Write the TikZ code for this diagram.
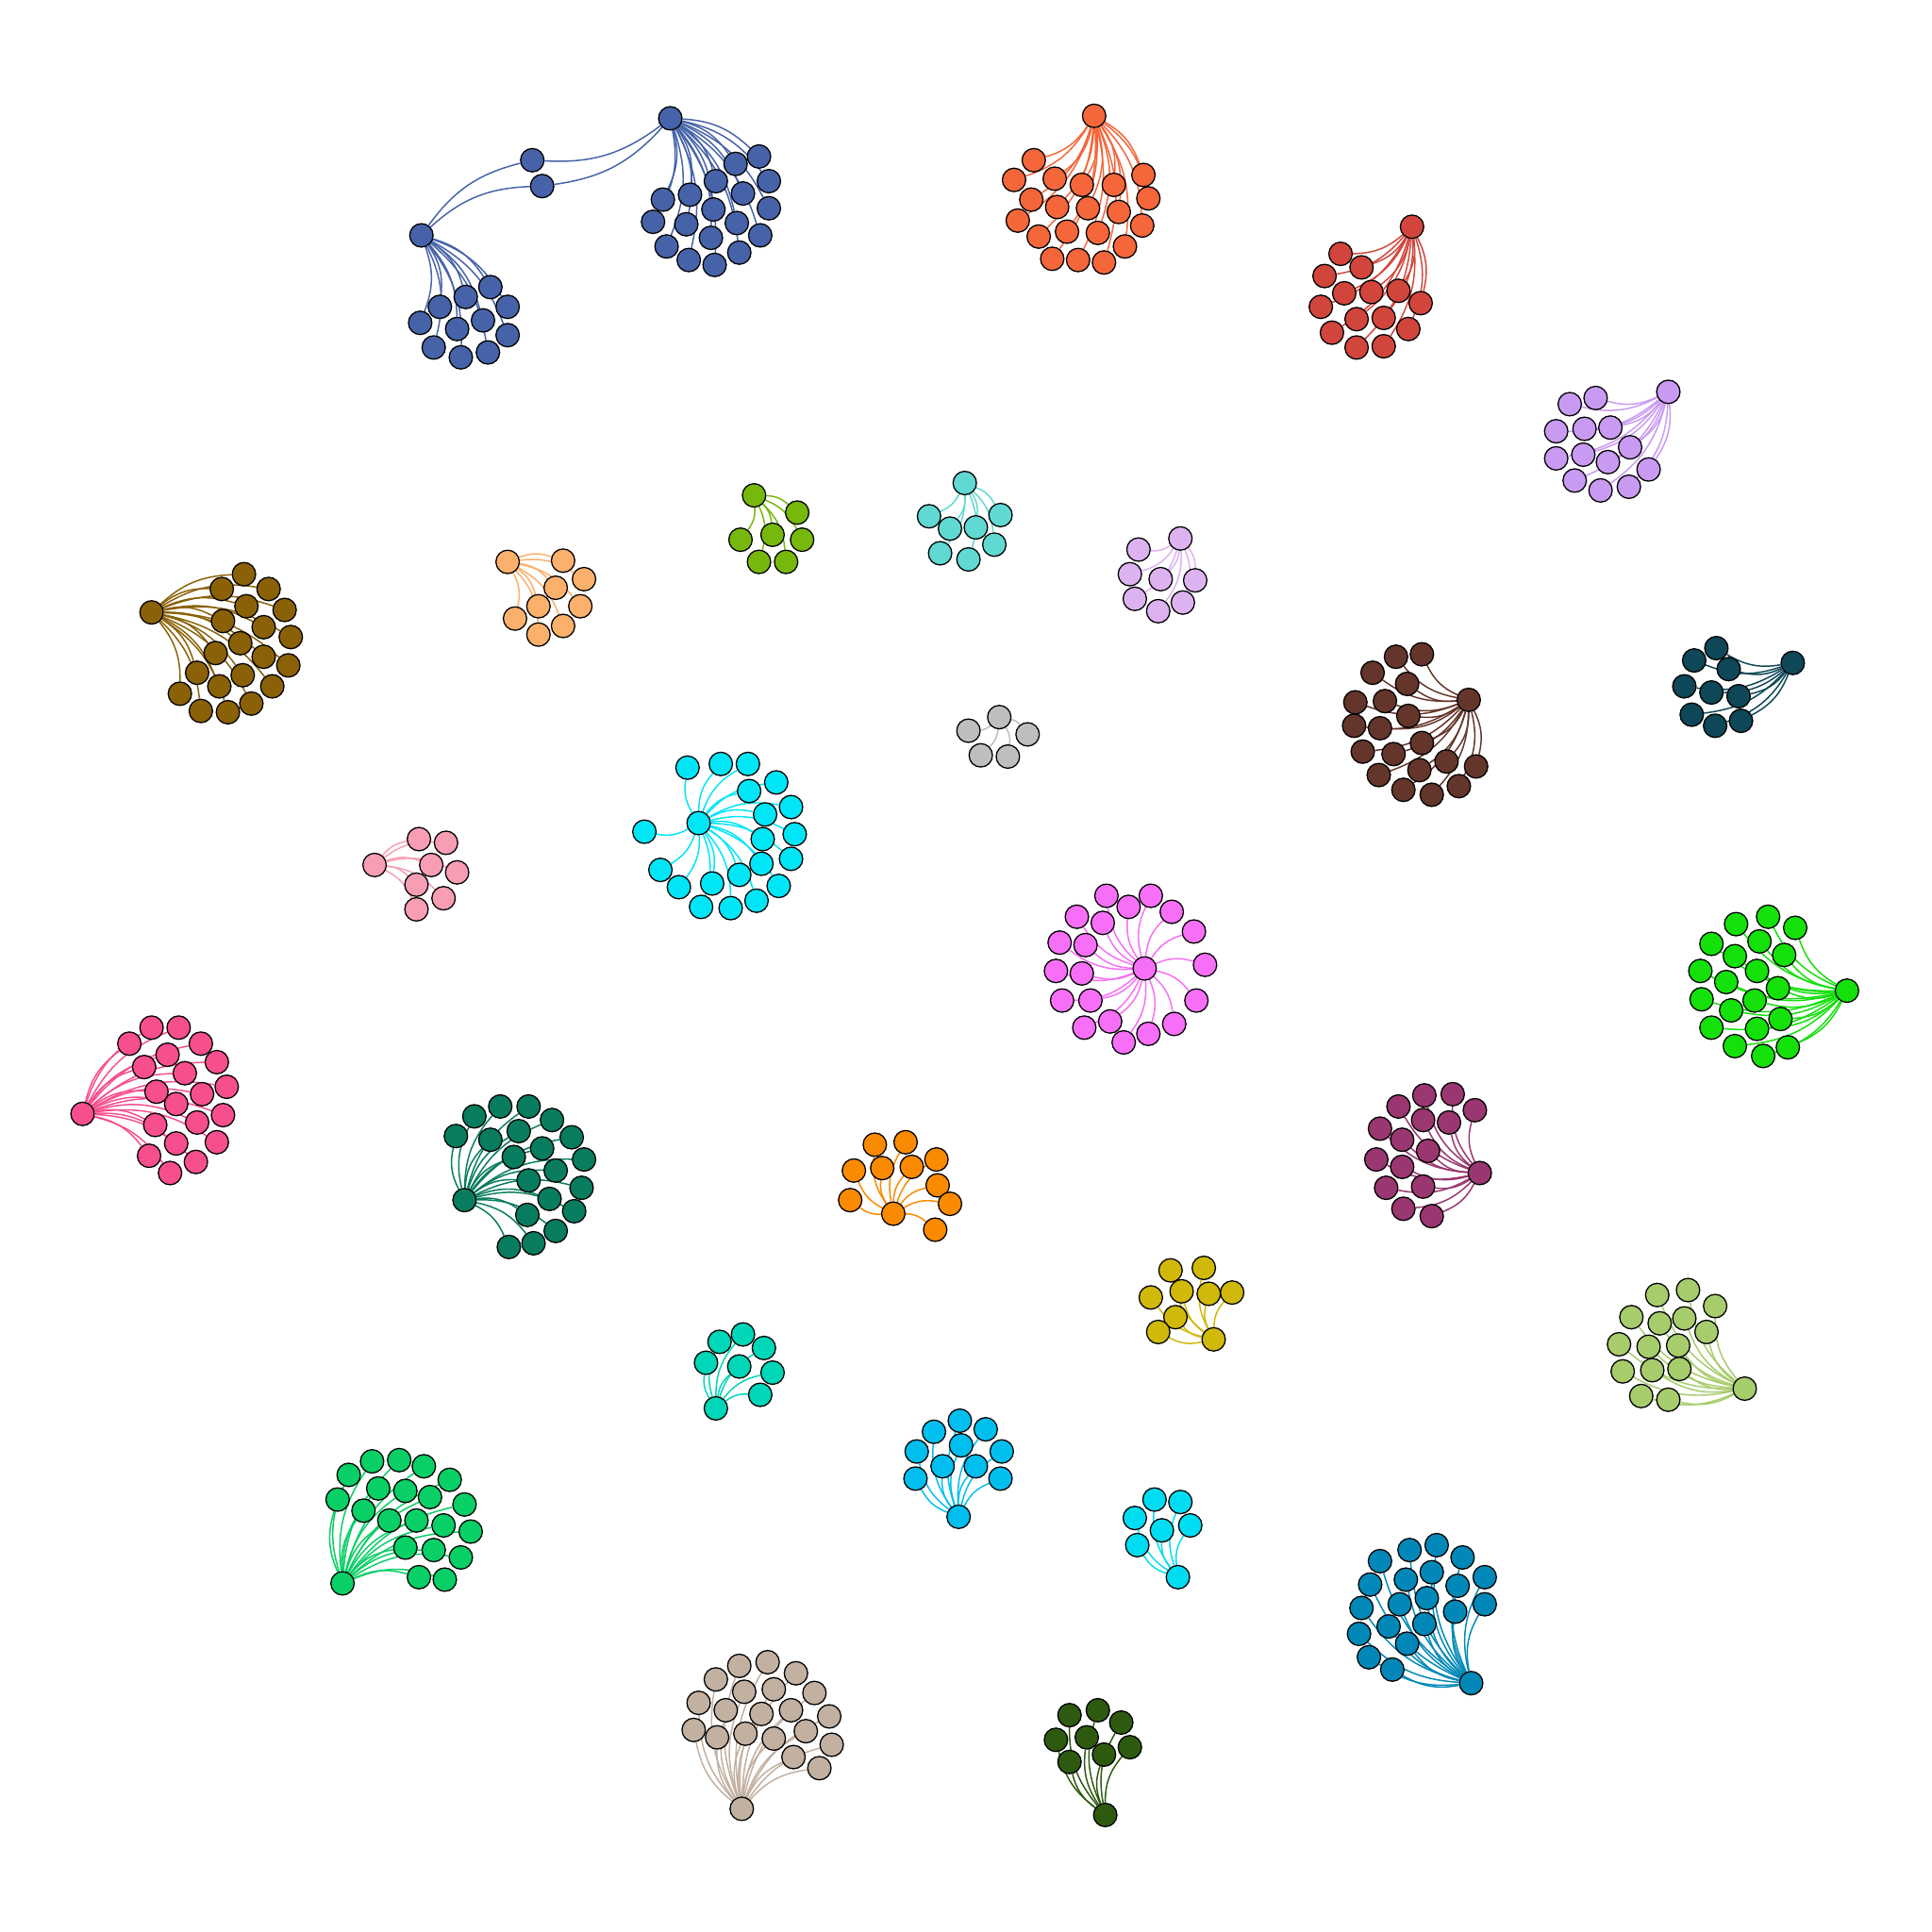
\documentclass[tikz,border=0pt]{standalone}
\pgfdeclarelayer{back}
\pgfdeclarelayer{bg}
\pgfsetlayers{back,bg,main}
\definecolor{cBlue}{HTML}{4663A9}
\definecolor{cOred}{HTML}{F5663A}
\definecolor{cRed}{HTML}{D2453C}
\definecolor{cLav}{HTML}{C99AF2}
\definecolor{cLLav}{HTML}{DDB2F0}
\definecolor{cTeal}{HTML}{5FD9D2}
\definecolor{cYg}{HTML}{77B80C}
\definecolor{cPeach}{HTML}{FBB06B}
\definecolor{cOlive}{HTML}{8B6108}
\definecolor{cBrown}{HTML}{64352A}
\definecolor{cDteal}{HTML}{0E4757}
\definecolor{cGray}{HTML}{BEBEBE}
\definecolor{cCyan}{HTML}{00E6F7}
\definecolor{cPink}{HTML}{F79EB4}
\definecolor{cMag}{HTML}{F76FF7}
\definecolor{cBgreen}{HTML}{14E00A}
\definecolor{cHpink}{HTML}{F74E8E}
\definecolor{cDgt}{HTML}{077C5E}
\definecolor{cOrange}{HTML}{FA8A00}
\definecolor{cPm}{HTML}{9A3670}
\definecolor{cYellow}{HTML}{D0B90A}
\definecolor{cLgreen}{HTML}{A6CC6C}
\definecolor{cTq}{HTML}{00D6B8}
\definecolor{cSky}{HTML}{00BFEF}
\definecolor{cCyan2}{HTML}{00DDF2}
\definecolor{cGreen}{HTML}{08CF66}
\definecolor{cBt}{HTML}{0288B8}
\definecolor{cBeige}{HTML}{C2B0A1}
\definecolor{cDgreen}{HTML}{2E5A10}
\tikzset{
  nd/.style={circle,draw=black,line width=0.28pt,minimum size=0.19cm,inner sep=0pt},
  eg/.style={line width=0.32pt},
}
% #1 prefix, #2 colour, #3 hub name, #4 node list
\newcommand\fan[4]{%
  \foreach \p [count=\i] in {#4}{%
    \node[nd,fill=#2] (#1\i) at \p {};
  }%
  \begin{pgfonlayer}{bg}
  \foreach \p [count=\i] in {#4}{%
    \draw[eg,draw=#2] (#3) to[bend left=20] (#1\i);
  }%
  \end{pgfonlayer}%
}
\newcommand\clus[4]{%
  \node[nd,fill=#2] (#1h) at #3 {};
  \fan{#1}{#2}{#1h}{#4}%
}
\begin{document}
\begin{tikzpicture}[x=0.01cm,y=-0.01cm]
\begin{pgfonlayer}{back}
\fill[white] (0,0) rectangle (1568,1568);
\end{pgfonlayer}
\useasboundingbox (0,0) rectangle (1568,1568);
% blue two-hub cluster
\node[nd,fill=cBlue] (blA) at (544,96) {};
\node[nd,fill=cBlue] (blm1) at (432,130) {};
\node[nd,fill=cBlue] (blm2) at (440,151) {};
\node[nd,fill=cBlue] (blB) at (342,191) {};
\begin{pgfonlayer}{bg}
\draw[eg,draw=cBlue] (blA) to[bend left=20] (blm1);
\draw[eg,draw=cBlue] (blA) to[bend left=20] (blm2);
\draw[eg,draw=cBlue] (blB) to[bend left=20] (blm1);
\draw[eg,draw=cBlue] (blB) to[bend left=20] (blm2);
\end{pgfonlayer}
\fan{bla}{cBlue}{blA}{(616,127),(597,133),(581,147),(624,147),(560,158),(538,162),(603,157),(579,170),(624,169),(557,182),(530,180),(598,181),(617,191),(577,193),(541,200),(559,211),(580,215),(600,205)}
\fan{blb}{cBlue}{blB}{(398,233),(378,241),(357,249),(412,249),(341,262),(371,267),(392,260),(412,272),(352,282),(374,290),(396,286)}
\clus{ored}{cOred}{(888,94)}{(839,130),(823,146),(856,145),(928,142),(878,150),(904,150),(837,162),(858,168),(883,169),(932,161),(908,172),(826,179),(843,192),(866,188),(891,189),(927,183),(913,200),(854,210),(875,211),(896,213)}
\clus{red}{cRed}{(1146,184)}{(1088,206),(1105,217),(1075,224),(1135,236),(1091,238),(1113,237),(1153,246),(1072,249),(1101,259),(1123,258),(1143,267),(1081,270),(1101,282),(1123,281)}
\clus{lav}{cLav}{(1354,318)}{(1274,328),(1295,323),(1263,350),(1286,348),(1307,347),(1263,372),(1285,369),(1323,363),(1305,375),(1278,390),(1299,398),(1322,395),(1338,381)}
\clus{llav}{cLLav}{(958,437)}{(924,446),(917,466),(942,470),(970,471),(921,486),(940,496),(960,489)}
\clus{teal}{cTeal}{(783,392)}{(754,419),(771,429),(792,428),(812,418),(807,442),(763,449),(786,454)}
\clus{yg}{cYg}{(612,402)}{(647,416),(601,438),(627,434),(651,438),(616,456),(638,456)}
\clus{peach}{cPeach}{(412,456)}{(457,455),(474,470),(451,477),(437,492),(471,492),(418,502),(437,515),(457,508)}
\clus{olive}{cOlive}{(123,497)}{(198,466),(180,478),(218,478),(200,492),(231,495),(181,504),(214,509),(236,517),(195,522),(175,530),(214,533),(234,540),(160,546),(197,548),(178,557),(221,557),(146,563),(163,577),(185,578),(204,571)}
\clus{brown}{cBrown}{(1192,568)}{(1133,533),(1154,531),(1114,546),(1142,555),(1124,569),(1100,570),(1143,581),(1120,591),(1099,589),(1154,603),(1131,612),(1106,610),(1174,618),(1198,622),(1119,629),(1152,625),(1139,641),(1162,645),(1184,638)}
\clus{dteal}{cDteal}{(1455,538)}{(1393,526),(1375,536),(1403,543),(1367,557),(1389,562),(1411,565),(1373,580),(1392,589),(1413,585)}
\clus{gray}{cGray}{(811,582)}{(786,593),(834,596),(796,613),(818,614)}
\clus{cyan}{cCyan}{(567,668)}{(558,623),(585,620),(607,620),(608,642),(630,635),(642,655),(621,661),(523,675),(645,677),(619,681),(536,706),(642,697),(618,701),(551,720),(578,717),(600,710),(632,719),(569,736),(593,737),(614,731)}
\clus{pink}{cPink}{(304,702)}{(340,681),(362,684),(350,702),(371,708),(338,718),(360,729),(338,738)}
\clus{mag}{cMag}{(929,786)}{(898,727),(916,736),(934,727),(951,740),(874,744),(895,749),(969,756),(860,765),(881,767),(978,783),(857,788),(878,790),(885,812),(862,812),(971,812),(880,834),(901,829),(932,839),(953,831),(912,846)}
\clus{bgreen}{cBgreen}{(1499,804)}{(1435,744),(1409,750),(1457,753),(1389,766),(1428,764),(1408,776),(1448,775),(1380,788),(1426,788),(1401,797),(1443,802),(1381,811),(1405,820),(1424,812),(1445,827),(1389,834),(1426,835),(1408,849),(1451,850),(1431,857)}
\clus{hpink}{cHpink}{(67,904)}{(123,834),(145,834),(105,847),(163,847),(136,856),(117,866),(176,862),(150,871),(127,886),(164,888),(184,882),(143,896),(126,913),(160,911),(181,905),(121,938),(143,928),(159,943),(176,927),(138,952)}
\clus{dgt}{cDgt}{(377,974)}{(406,898),(429,898),(385,906),(448,909),(370,922),(398,925),(421,918),(464,923),(440,932),(474,941),(417,939),(451,950),(429,958),(472,964),(446,973),(428,986),(466,983),(451,999),(413,1012),(433,1009)}
\clus{orange}{cOrange}{(725,985)}{(710,929),(735,927),(760,941),(693,950),(716,948),(740,947),(761,962),(690,974),(771,977),(759,998)}
\clus{pm}{cPm}{(1201,952)}{(1135,898),(1156,889),(1179,888),(1197,901),(1120,916),(1138,925),(1155,909),(1176,911),(1159,934),(1117,941),(1138,947),(1125,964),(1155,963),(1139,981),(1162,987)}
\clus{yel}{cYellow}{(985,1087)}{(950,1031),(977,1029),(934,1053),(959,1048),(981,1050),(1000,1049),(954,1069),(940,1081)}
\clus{lgreen}{cLgreen}{(1416,1127)}{(1370,1047),(1345,1051),(1392,1060),(1324,1069),(1347,1074),(1367,1070),(1385,1081),(1314,1091),(1338,1093),(1362,1092),(1317,1113),(1341,1112),(1363,1111),(1332,1133),(1354,1136)}
\clus{tq}{cTq}{(581,1143)}{(584,1089),(603,1083),(620,1094),(573,1106),(600,1109),(627,1114),(617,1132)}
\clus{sky}{cSky}{(778,1231)}{(779,1153),(758,1162),(800,1160),(813,1178),(780,1173),(744,1178),(765,1190),(792,1190),(743,1200),(812,1200)}
\clus{cyantwo}{cCyan2}{(956,1280)}{(937,1217),(958,1219),(921,1232),(943,1242),(966,1238),(923,1254)}
\clus{green}{cGreen}{(278,1285)}{(302,1186),(324,1185),(283,1197),(344,1190),(365,1201),(307,1208),(329,1210),(274,1217),(349,1215),(377,1221),(295,1226),(316,1234),(338,1234),(360,1238),(382,1243),(329,1256),(352,1258),(374,1264),(340,1280),(361,1282)}
\clus{bt}{cBt}{(1194,1366)}{(1166,1254),(1144,1258),(1187,1264),(1120,1267),(1141,1282),(1162,1276),(1205,1280),(1183,1287),(1112,1286),(1136,1302),(1158,1297),(1105,1305),(1181,1308),(1205,1302),(1127,1320),(1156,1318),(1103,1326),(1142,1334),(1111,1345),(1130,1355)}
\clus{beige}{cBeige}{(602,1468)}{(600,1352),(623,1349),(581,1363),(646,1358),(628,1371),(604,1373),(661,1374),(567,1382),(589,1388),(618,1391),(642,1388),(673,1393),(563,1404),(582,1410),(605,1407),(628,1411),(654,1405),(675,1416),(644,1426),(665,1435)}
\clus{dgreen}{cDgreen}{(897,1473)}{(868,1392),(891,1388),(910,1398),(857,1412),(882,1410),(917,1418),(896,1424),(868,1430)}
\end{tikzpicture}
\end{document}
